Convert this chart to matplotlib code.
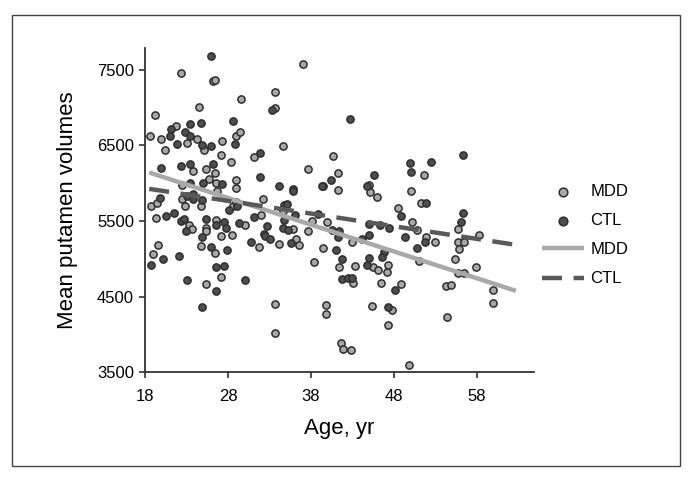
import matplotlib
matplotlib.use("Agg")
import matplotlib.pyplot as plt
from matplotlib.patches import Rectangle

# -----------------------------
# Donnees
# -----------------------------
mdd_age = [37.0, 22.3, 26.2, 26.4, 33.6, 33.6, 29.5, 24.5, 19.2, 18.6, 19.9, 20.4,
           21.7, 23.1, 24.3, 25.1, 27.3, 29.0, 29.4, 34.6, 31.1, 27.1, 23.8, 25.3,
           26.4, 28.4, 29.0, 28.9, 26.5, 25.7, 22.5, 37.6, 40.7, 41.3, 41.2, 45.0,
           45.1, 45.9, 51.6, 50.1, 51.2,
           18.7, 19.4, 19.0, 19.5, 19.3, 23.3, 23.7, 22.8, 22.4, 24.7, 25.4, 25.3,
           24.7, 26.4, 25.4, 26.7, 26.6, 27.1, 28.6, 28.9, 28.5, 27.1, 30.0, 31.7,
           32.2, 32.0, 34.2, 34.6, 35.8, 36.2, 36.5, 37.6, 38.1, 38.4, 39.4, 39.9,
           41.4, 42.9, 43.3, 43.1, 39.8, 39.8, 33.6, 33.7, 41.6, 41.8, 42.8, 45.3,
           45.5, 46.1, 46.4, 47.2, 47.3, 47.8, 47.3, 48.5, 48.9, 50.2, 50.8, 51.0,
           49.8, 51.9, 53.0, 54.3, 54.9, 54.4, 55.3, 55.7, 55.7, 55.9, 55.7, 56.5,
           56.5, 58.2, 57.9, 60.0, 60.0]
mdd_vol = [7575, 7456, 7350, 7360, 7205, 6990, 7110, 7000, 6900, 6615, 6585, 6440,
           6755, 6535, 6580, 6440, 6555, 6615, 6670, 6495, 6345, 6365, 6165, 6185,
           6130, 6280, 6040, 5930, 6005, 6055, 5970, 6180, 6360, 6135, 5905, 5975,
           5875, 5820, 6100, 5890, 5735,
           5690, 5740, 5060, 5180, 5540, 5440, 5390, 5690, 5795, 5695, 5405, 5365,
           5170, 5080, 4665, 5900, 5510, 5305, 5690, 5745, 5310, 4760, 5440, 5150,
           5795, 5580, 5190, 5630, 5390, 5260, 5180, 5370, 5495, 4955, 5145, 5490,
           4890, 5215, 4905, 4675, 4385, 4270, 4405, 4015, 3880, 3800, 3795, 4380,
           4890, 4850, 4685, 4820, 4920, 4320, 4125, 5665, 4665, 5485, 5385, 4975,
           3600, 5285, 5215, 4645, 4650, 4230, 4995, 5390, 5215, 5125, 4810, 5220,
           4810, 5310, 4890, 4585, 4410]

ctl_age = [26.0, 33.3, 42.7, 21.1, 21.0, 22.8, 23.4, 23.4, 21.9, 24.7, 24.8, 25.9,
           28.6, 28.8, 31.8, 22.3, 19.9, 23.4, 26.2, 27.3, 25.0, 23.4, 31.9, 34.1,
           35.8, 35.8, 39.5, 40.4, 45.6, 49.9, 50.0, 52.5, 56.3, 51.9,
           19.8, 18.7, 20.2, 20.5, 21.5, 22.3, 22.7, 22.9, 23.1, 23.8, 23.8, 22.1,
           23.1, 24.9, 25.4, 24.8, 26.0, 26.5, 26.6, 24.9, 26.5, 27.5, 27.8, 28.1,
           29.1, 27.9, 27.5, 29.3, 30.0, 31.1, 30.8, 32.3, 32.7, 32.5, 33.1, 34.8,
           35.1, 34.7, 34.6, 35.2, 35.6, 36.1, 38.8, 40.5, 41.0, 41.4, 41.3, 41.7,
           41.7, 42.4, 42.9, 44.2, 45.0, 45.0, 44.7, 45.0, 46.8, 46.6, 46.3, 47.4,
           47.3, 48.1, 48.8, 49.3, 50.8, 51.8, 56.1, 56.3, 39.3, 44.8]
ctl_vol = [7685, 6970, 6840, 6720, 6620, 6675, 6780, 6625, 6520, 6800, 6500, 6495,
           6815, 6515, 6400, 6230, 6195, 6250, 6245, 5985, 6000, 5995, 6085, 5965,
           5925, 5900, 5965, 6045, 6100, 6260, 6145, 6275, 6365, 5740,
           5805, 4920, 5000, 5565, 5600, 5500, 5520, 5370, 5835, 5855, 5790, 5040,
           4720, 5775, 5520, 5285, 5160, 4890, 4575, 4360, 5445, 5490, 5405, 5640,
           5690, 5115, 4905, 5475, 4720, 5555, 5225, 5325, 5435, 5300, 5260, 5705,
           5725, 5515, 5410, 5380, 5205, 5580, 5590, 5380, 5115, 5360, 5290, 4995,
           4730, 4745, 4740, 5260, 5455, 5310, 4920, 5015, 5090, 5020, 5445, 5410,
           4355, 4590, 5565, 5290, 5140, 5220, 5480, 5610, 5967, 5960]

# droites de regression (extremites lues)
fit_age = [18.5, 62.7]
mdd_fit = [6139, 4575]
ctl_fit = [5923, 5183]

x_ticks = [18, 28, 38, 48, 58]
y_ticks = [3500, 4500, 5500, 6500, 7500]

# -----------------------------
# Figure
# -----------------------------
plt.rcParams['font.family'] = ['Liberation Sans', 'DejaVu Sans']
fig = plt.figure(figsize=(6.91, 4.79), dpi=100)
ax = fig.add_axes([0.21, 0.223, 0.563, 0.677])

edge = "#2e2e2e"
ax.scatter(mdd_age, mdd_vol, s=27, c="#a8a8a8", edgecolors=edge, linewidths=1.1,
           label="MDD", zorder=2)
ax.scatter(ctl_age, ctl_vol, s=27, c="#4e4e4e", edgecolors=edge, linewidths=1.1,
           label="CTL", zorder=2)
ax.plot(fit_age, mdd_fit, color="#a9a9a9", lw=3.2, label="MDD", zorder=3,
        solid_capstyle="butt")
ax.plot(fit_age, ctl_fit, color="#595959", lw=3.2, ls=(0, (4.5, 2.6)), label="CTL",
        zorder=3, dash_capstyle="butt")

ax.set_xlim(18, 64.9)
ax.set_ylim(3500, 7786)
ax.set_xticks(x_ticks)
ax.set_yticks(y_ticks)
ax.tick_params(labelsize=12, length=4, width=1.2, color="#333333")
ax.tick_params(axis="x", pad=8)
ax.tick_params(axis="y", pad=4)
for s in ["top", "right"]:
    ax.spines[s].set_visible(False)
for s in ["left", "bottom"]:
    ax.spines[s].set_color("#333333")
    ax.spines[s].set_linewidth(1.3)

ax.set_xlabel("Age, yr", fontsize=16, labelpad=10)
ax.set_ylabel("Mean putamen volumes", fontsize=16, labelpad=14)

leg = ax.legend(loc="upper left", bbox_to_anchor=(0.775, 0.63),
                bbox_transform=fig.transFigure, frameon=False, fontsize=12,
                handlelength=2.5, handletextpad=0.4, labelspacing=0.85,
                borderaxespad=0, markerscale=1.2)

# cadre autour de la figure
fig.patches.append(Rectangle((0.0174, 0.027), 0.9666, 0.942, transform=fig.transFigure,
                             fill=False, edgecolor="#444444", lw=1.0))

fig.savefig("out.png", dpi=100)
